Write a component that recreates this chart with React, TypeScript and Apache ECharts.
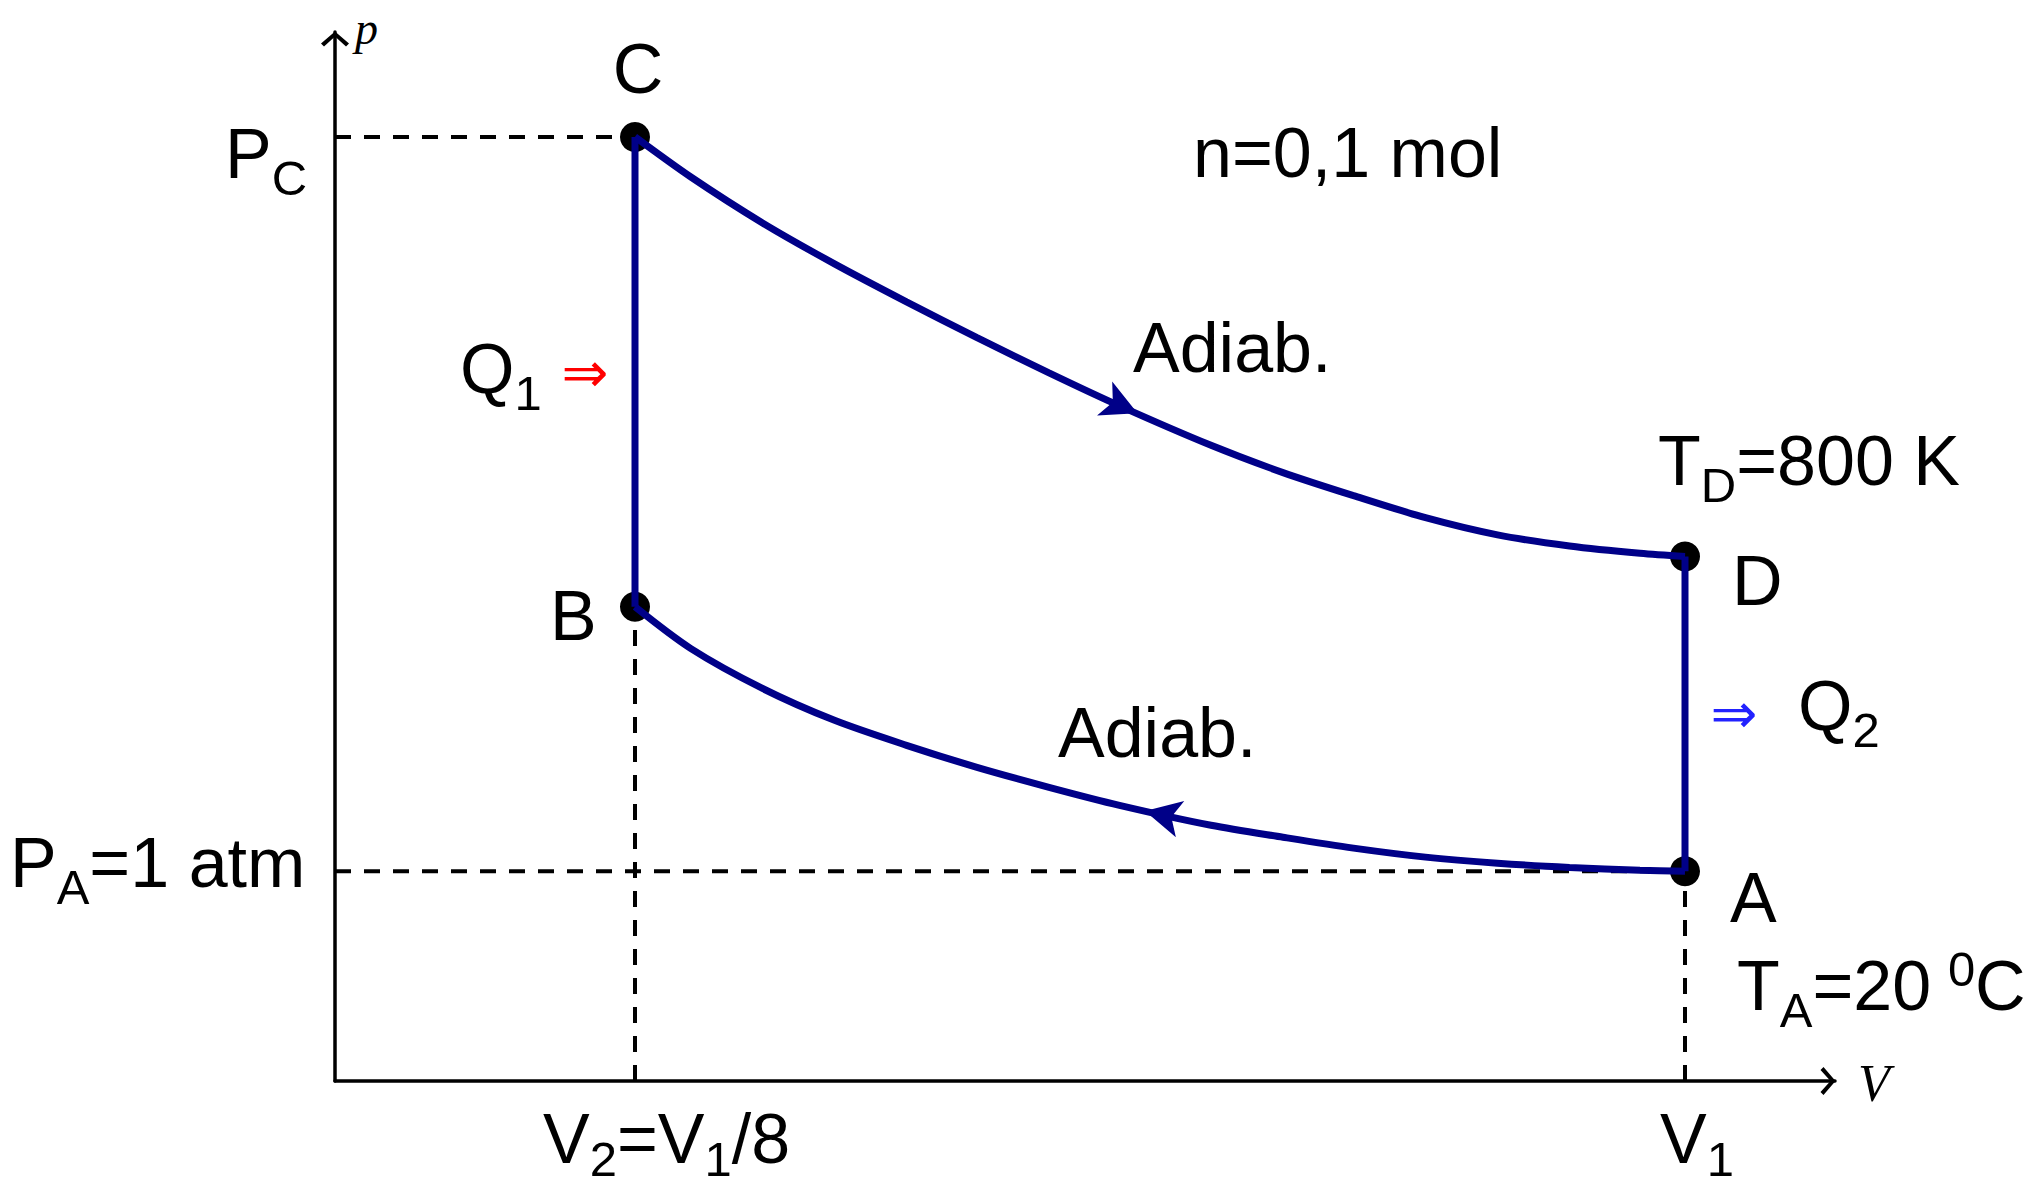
import React, { useEffect, useRef } from "react";
import * as echarts from "echarts";

// ---- data (schematic units) ----
const V2 = 1; // V2 = V1/8
const V1 = 8;
const P_A = 1;
const P_B = 2.26;
const P_C = 4.5;
const P_D = 2.5;

// adiabat C -> D (expansion)
const upperV = [1, 1.37, 1.85, 2.33, 2.81, 3.28, 3.76, 4.23, 4.84, 5.32, 5.79, 6.27, 6.75, 7.23, 7.7, 8];
const upperP = [4.5, 4.31, 4.09, 3.895, 3.714, 3.543, 3.375, 3.218, 3.03, 2.9, 2.79, 2.685, 2.603, 2.55, 2.515, 2.5];
// adiabat A -> B (compression), listed from B to A
const lowerV = [1, 1.37, 1.85, 2.33, 2.81, 3.28, 3.76, 4.23, 4.84, 5.32, 5.79, 6.27, 6.75, 7.23, 7.7, 8];
const lowerP = [2.26, 2.062, 1.871, 1.719, 1.6, 1.495, 1.4, 1.314, 1.219, 1.162, 1.11, 1.067, 1.038, 1.018, 1.005, 1];

// direction arrows on the adiabats
const arrowV = [4.35, 4.4];
const arrowP = [3.183, 1.287];
const arrowRot = [-114, 77];

const FONT = "'Liberation Sans', Arial, Helvetica, sans-serif";
const SERIF = "'Liberation Serif', 'DejaVu Serif', serif";
const SYM = "'DejaVu Sans', sans-serif";
const MAIN = 70;
const SMALL = 49;
const NAVY = "#000088";

type Seg = { t: string; k?: "sub" | "sup"; x?: number; dy?: number };

function App() {
  const ref = useRef<HTMLDivElement>(null);

  useEffect(() => {
    if (!ref.current) return;
    const chart = echarts.init(ref.current, null, { renderer: "svg" });
    const canvas = document.createElement("canvas");
    const ctx = canvas.getContext("2d") as CanvasRenderingContext2D;
    const measure = (t: string, size: number) => {
      ctx.font = `${size}px ${FONT}`;
      return ctx.measureText(t).width;
    };

    const label = (x: number, baseline: number, segs: Seg[], center = false): any[] => {
      let total = 0;
      segs.forEach((s) => (total += measure(s.t, s.k ? SMALL : MAIN)));
      let cx = center ? x - total / 2 : x;
      const out: any[] = [];
      segs.forEach((s) => {
        const size = s.k ? SMALL : MAIN;
        const off = s.dy != null ? s.dy : s.k === "sub" ? 17 : s.k === "sup" ? -24 : 0;
        const bl = baseline + off;
        const px = s.x != null ? s.x : cx;
        out.push({
          type: "text",
          x: px,
          y: bl - 0.3465 * size,
          silent: true,
          style: {
            text: s.t,
            font: `${size}px ${FONT}`,
            fill: "#000",
            align: "left",
            verticalAlign: "middle",
            textAlign: "left",
            textVerticalAlign: "middle",
          },
        });
        cx = px + measure(s.t, size);
      });
      return out;
    };

    const sym = (x: number, y: number, color: string) => ({
      type: "text",
      x,
      y,
      silent: true,
      style: {
        text: "⇒",
        font: `56px ${SYM}`,
        fill: color,
        align: "center",
        verticalAlign: "middle",
        textAlign: "center",
        textVerticalAlign: "middle",
      },
    });

    const axisName = (t: string, x: number, y: number, size: number) => ({
      type: "text",
      x,
      y,
      silent: true,
      style: {
        text: t,
        font: `italic ${size}px ${SERIF}`,
        fill: "#000",
        align: "left",
        verticalAlign: "middle",
        textAlign: "left",
        textVerticalAlign: "middle",
      },
    });

    const elements: any[] = [
      ...label(638, 93, [{ t: "C" }], true),
      ...label(225, 178, [{ t: "P" }, { t: "C", k: "sub" }]),
      ...label(1193, 177, [{ t: "n=0,1 mol" }]),
      ...label(1133, 372, [{ t: "Adiab." }]),
      ...label(460, 393, [{ t: "Q" }, { t: "1", k: "sub" }]),
      sym(585, 372, "#ff0000"),
      ...label(1658, 485, [{ t: "T" }, { t: "D", k: "sub" }, { t: "=800 K" }]),
      ...label(1732, 605, [{ t: "D" }]),
      ...label(550, 640, [{ t: "B" }]),
      sym(1734, 713, "#2222ff"),
      ...label(1798, 730, [{ t: "Q" }, { t: "2", k: "sub" }]),
      ...label(1058, 757, [{ t: "Adiab." }]),
      ...label(10, 887, [{ t: "P" }, { t: "A", k: "sub" }, { t: "=1 atm" }]),
      ...label(1730, 922, [{ t: "A" }]),
      ...label(1737, 1010, [
        { t: "T" },
        { t: "A", k: "sub" },
        { t: "=20" },
        { t: "0", k: "sup", x: 1948 },
        { t: "C", x: 1975 },
      ]),
      ...label(543, 1163, [
        { t: "V" },
        { t: "2", k: "sub", dy: 13 },
        { t: "=V" },
        { t: "1", k: "sub", dy: 13 },
        { t: "/8" },
      ]),
      ...label(1660, 1163, [{ t: "V" }, { t: "1", k: "sub", dy: 13 }]),
      axisName("p", 355, 28, 46),
      axisName("V", 1858, 1083, 52),
    ];

    const dashed = { color: "#000", width: 4, type: [16, 13] as any };
    const guide = (data: number[][]) => ({
      type: "line",
      data,
      symbol: "none",
      lineStyle: dashed,
      z: 1,
      silent: true,
    });
    const chevron = "path://M0,12 L14,0 L28,12 L25,15 L14,5 L3,15 Z";
    const axisLine = {
      show: true,
      onZero: false,
      lineStyle: { color: "#000", width: 3.5 },
      symbol: ["none", chevron],
      symbolSize: [28, 15],
      symbolOffset: [0, -7],
    };
    const curve = (data: number[][]) => ({
      type: "line",
      data,
      symbol: "none",
      smooth: 0.3,
      lineStyle: { color: NAVY, width: 7 },
      z: 3,
      silent: true,
    });

    const option: any = {
      animation: false,
      backgroundColor: "#ffffff",
      grid: { left: 335, right: 207, top: 32, bottom: 108, containLabel: false },
      xAxis: {
        type: "value",
        min: -1,
        max: 9,
        axisLine,
        axisTick: { show: false },
        axisLabel: { show: false },
        splitLine: { show: false },
      },
      yAxis: {
        type: "value",
        min: 0,
        max: 5,
        axisLine,
        axisTick: { show: false },
        axisLabel: { show: false },
        splitLine: { show: false },
      },
      series: [
        guide([[-1, P_C], [V2, P_C]]),
        guide([[-1, P_A], [V1, P_A]]),
        guide([[V2, 0], [V2, P_B]]),
        guide([[V1, 0], [V1, P_A]]),
        {
          type: "scatter",
          data: [[V1, P_A], [V2, P_B], [V2, P_C], [V1, P_D]],
          symbol: "circle",
          symbolSize: 30,
          itemStyle: { color: "#000", opacity: 1 },
          z: 2,
          silent: true,
        },
        curve(upperV.map((v, i) => [v, upperP[i]])),
        curve(lowerV.map((v, i) => [v, lowerP[i]])),
        curve([[V2, P_B], [V2, P_C]]),
        curve([[V1, P_D], [V1, P_A]]),
        {
          type: "scatter",
          data: arrowV.map((v, i) => ({ value: [v, arrowP[i]], symbolRotate: arrowRot[i] })),
          symbol: "arrow",
          symbolSize: [28, 36],
          itemStyle: { color: NAVY, opacity: 1 },
          z: 4,
          silent: true,
        },
      ],
      graphic: { elements },
    };

    chart.setOption(option);
    return () => chart.dispose();
  }, []);

  return (
    <div
      ref={ref}
      style={{ position: "fixed", left: 0, top: 0, width: 2042, height: 1189, background: "#fff" }}
    />
  );
}

export default App;
